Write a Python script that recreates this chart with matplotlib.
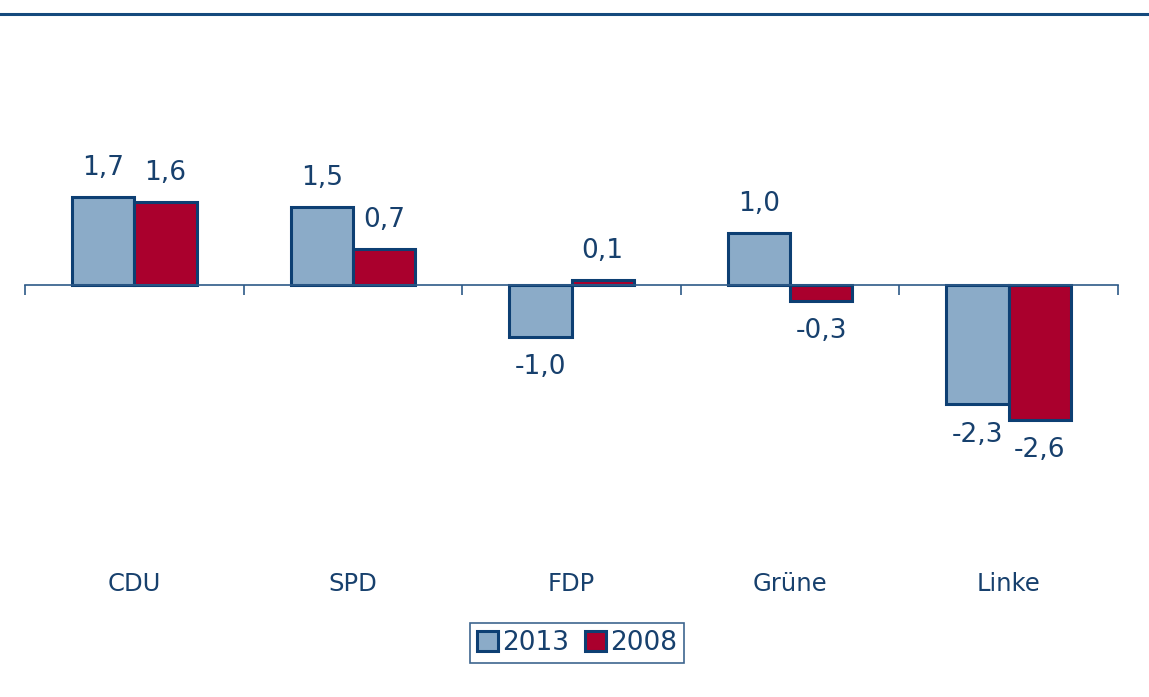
import matplotlib.pyplot as plt
import numpy as np
from matplotlib.lines import Line2D

# data
parties = ['CDU', 'SPD', 'FDP', 'Grüne', 'Linke']
v2013 = [1.7, 1.5, -1.0, 1.0, -2.3]
v2008 = [1.6, 0.7, 0.1, -0.3, -2.6]
series_names = ['2013', '2008']

navy = '#0D3F73'
txt = '#17406D'
c2013 = '#8BABC8'
c2008 = '#AA002D'

fig = plt.figure(figsize=(11.49, 6.97), dpi=100)
ax = fig.add_axes([25/1149, 1-540/697, (1118-25)/1149, 480/697])

x = np.arange(len(parties))
w = 0.285
b1 = ax.bar(x - w/2, v2013, w, color=c2013, edgecolor=navy, linewidth=2.2, label=series_names[0])
b2 = ax.bar(x + w/2, v2008, w, color=c2008, edgecolor=navy, linewidth=2.2, label=series_names[1])

def fmt(v):
    return f'{v:.1f}'.replace('.', ',')

for bars, vals in ((b1, v2013), (b2, v2008)):
    for r, v in zip(bars, vals):
        off = 21 if v >= 0 else -22
        ax.annotate(fmt(v), (r.get_x() + r.get_width()/2, v), xytext=(0, off),
                    textcoords='offset points', ha='center', va='center',
                    fontsize=19, color=txt)

ax.set_xlim(-0.5, len(parties) - 0.5)
ax.set_ylim(-4.92, 4.34)

for s in ['top', 'right', 'left']:
    ax.spines[s].set_visible(False)
ax.spines['bottom'].set_position(('data', 0))
ax.spines['bottom'].set_color('#2E5A88')
ax.spines['bottom'].set_linewidth(1.2)
ax.set_yticks([])

ax.set_xticks(x)
ax.set_xticklabels(parties, fontsize=17.5, color=txt)
ax.tick_params(axis='x', which='major', length=0, pad=207)
ax.set_xticks(np.arange(len(parties) + 1) - 0.5, minor=True)
ax.tick_params(axis='x', which='minor', length=7, width=1.2, color='#2E5A88')

leg = fig.legend(loc='center', bbox_to_anchor=(577/1149, 1-643/697), ncol=2,
                 fontsize=19, frameon=True, fancybox=False, handlelength=0.8,
                 handleheight=0.8, handletextpad=0.15, columnspacing=0.6,
                 borderpad=0.25, borderaxespad=0)
leg.get_frame().set_edgecolor(navy)
leg.get_frame().set_linewidth(1.2)
for t in leg.get_texts():
    t.set_color(txt)

fig.add_artist(Line2D([0, 1], [1-14/697, 1-14/697], color='#154A7D', linewidth=2.2,
                      transform=fig.transFigure))

fig.savefig('out.png', dpi=100)
